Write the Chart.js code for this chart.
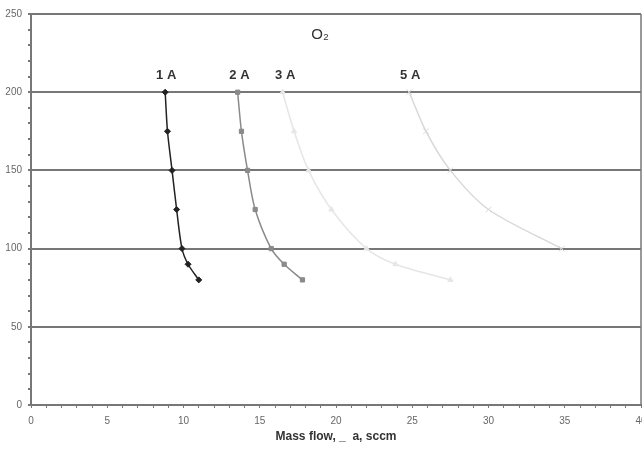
<!DOCTYPE html>
<html>
<head>
<meta charset="utf-8">
<script src="https://cdn.jsdelivr.net/npm/chart.js@4/dist/chart.umd.min.js"></script>
<style>
  body { margin: 0; background: #fff; overflow: hidden; }
  #wrap { width: 642px; height: 452px; overflow: hidden; }
</style>
</head>
<body>
<div id="wrap"><canvas id="chart" width="642" height="452"></canvas></div>
<script>
// --- DATA ---
const yLevels = [200, 175, 150, 125, 100, 90, 80];
const flow1A = [8.8, 8.95, 9.25, 9.55, 9.9, 10.3, 11.0];
const flow2A = [13.55, 13.8, 14.2, 14.7, 15.75, 16.6, 17.8];
const flow3A = [16.5, 17.25, 18.2, 19.7, 22.0, 23.9, 27.5];
const yLevels5A = [200, 175, 150, 125, 100];
const flow5A = [24.8, 25.9, 27.5, 30.0, 34.8];
const curveNames = ['1 A', '2 A', '3 A', '5 A'];
const labelX = [8.8, 13.6, 16.6, 24.8];
const labelY = 210;
const chartTitle = 'O\u2082';
const xTitle = 'Mass flow, _  a, sccm';

function pts(xs, ys) {
    return xs.map((x, i) => ({ x: x, y: ys[i] }));
}

// --- ANNOTATIONS: curve labels, title, right border, x title ---
const extras = {
    id: 'extras',
    afterDraw(chart) {
        const { ctx, chartArea, scales } = chart;
        ctx.save();
        // right border
        ctx.strokeStyle = '#777';
        ctx.lineWidth = 1.5;
        ctx.beginPath();
        ctx.moveTo(chartArea.right, chartArea.top);
        ctx.lineTo(chartArea.right, chartArea.bottom);
        ctx.stroke();

        ctx.fillStyle = '#333';
        ctx.textAlign = 'center';
        ctx.textBaseline = 'middle';
        ctx.font = 'bold 13px "Liberation Sans", Arial, sans-serif';
        curveNames.forEach((n, i) => {
            ctx.fillText(n, scales.x.getPixelForValue(labelX[i]) + 1, scales.y.getPixelForValue(labelY) - 1);
        });

        ctx.font = '15px "Liberation Sans", Arial, sans-serif';
        ctx.fillText(chartTitle, (chartArea.left + chartArea.right) / 2 - 16, chartArea.top + 21);

        ctx.font = 'bold 12px "Liberation Sans", Arial, sans-serif';
        ctx.fillText(xTitle, (chartArea.left + chartArea.right) / 2, chartArea.bottom + 32);
        ctx.restore();
    }
};

const ds = (label, data, color, style, radius) => ({
    label: label,
    data: data,
    showLine: true,
    borderColor: color,
    backgroundColor: color,
    borderWidth: 1.5,
    pointStyle: style,
    pointRadius: radius,
    pointBorderWidth: 1,
    tension: 0.3
});

new Chart(document.getElementById('chart'), {
    type: 'scatter',
    data: {
        datasets: [
            ds('1 A', pts(flow1A, yLevels), '#222', 'rectRot', 3),
            ds('2 A', pts(flow2A, yLevels), '#8a8a8a', 'rect', 3),
            ds('3 A', pts(flow3A, yLevels), '#e6e6e6', 'triangle', 3),
            ds('5 A', pts(flow5A, yLevels5A), '#d8d8d8', 'crossRot', 4)
        ]
    },
    options: {
        responsive: false,
        animation: false,
        layout: { autoPadding: false, padding: { top: 14, right: 1, left: 0, bottom: 0 } },
        plugins: { legend: { display: false }, tooltip: { enabled: false } },
        scales: {
            x: {
                type: 'linear', min: 0, max: 40,
                afterFit(scale) { scale.height = 47; scale.paddingRight = 0; },
                border: { color: '#777', width: 2 },
                grid: { drawOnChartArea: false, tickLength: 3, tickColor: '#777' },
                ticks: {
                    stepSize: 1, autoSkip: false, maxRotation: 0, padding: 7,
                    color: '#666', font: { size: 10, family: '"Liberation Sans", Arial, sans-serif' },
                    callback: v => (v % 5 === 0 ? v : '')
                }
            },
            y: {
                min: 0, max: 250,
                afterFit(scale) { scale.width = 31; },
                border: { color: '#777', width: 2 },
                grid: {
                    color: c => (c.tick && c.tick.value % 50 === 0 ? '#777' : 'rgba(0,0,0,0)'),
                    lineWidth: 2, tickLength: 3, tickColor: '#777'
                },
                ticks: {
                    stepSize: 10, autoSkip: false, padding: 6,
                    color: '#666', font: { size: 10, family: '"Liberation Sans", Arial, sans-serif' },
                    callback: v => (v % 50 === 0 ? v : '')
                }
            }
        }
    },
    plugins: [extras]
});
</script>
</body>
</html>
